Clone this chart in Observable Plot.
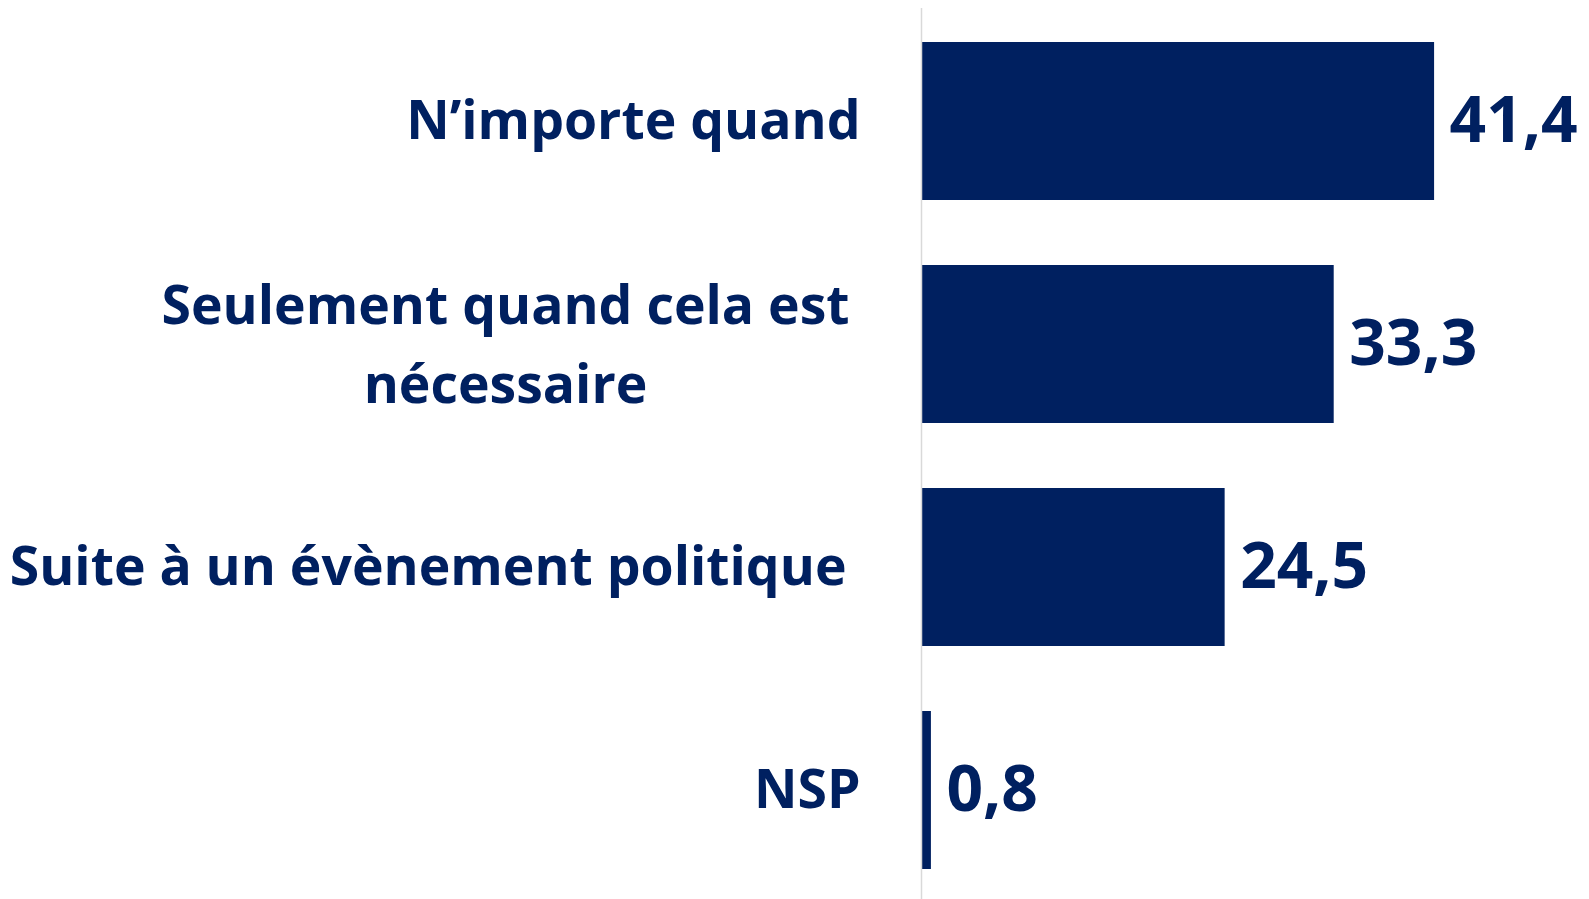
<!DOCTYPE html>
<html><head><meta charset="utf-8">
<script src="https://cdn.jsdelivr.net/npm/d3@7"></script>
<script src="https://cdn.jsdelivr.net/npm/@observablehq/plot@0.6"></script>
<style>body{margin:0;background:#fff;overflow:hidden}</style>
</head><body><div id="chart"></div>
<script>
const categories = ["N’importe quand", "Seulement quand cela est\nnécessaire", "Suite à un évènement politique", "NSP"];
const values = [41.4, 33.3, 24.5, 0.8];
const valueLabels = ["41,4", "33,3", "24,5", "0,8"];

const data = categories.map((c, i) => ({category: c, value: values[i], label: valueLabels[i], i}));
const navy = "#002060";
const font = "'Open Sans', Lato, sans-serif";
const labelStyle = {fill: navy, fontSize: 53.5, fontWeight: "bold"};

const plot = Plot.plot({
  width: 1589, height: 899,
  marginLeft: 921, marginRight: 0, marginTop: 8, marginBottom: 0,
  x: {domain: [0, 53.9], axis: null},
  y: {domain: categories, axis: null, paddingInner: 0.29, paddingOuter: 0.1356, align: 0.53},
  style: {fontFamily: font, background: "white", overflow: "visible"},
  marks: [
    Plot.barX(data, {x: "value", y: "category", fill: navy, insetLeft: 1}),
    Plot.ruleX([0], {stroke: "#d9d9d9", strokeWidth: 1.5}),
    Plot.text(data, {x: "value", y: "category", text: "label", textAnchor: "start", dx: 15,
      fill: navy, fontSize: 64, fontWeight: "bold"}),
    Plot.text(data.filter(d => d.i === 0 || d.i === 3), {x: 0, y: "category", text: "category",
      textAnchor: "end", dx: -61, ...labelStyle}),
    Plot.text(data.filter(d => d.i === 2), {x: 0, y: "category", text: "category",
      textAnchor: "end", dx: -75, ...labelStyle}),
    Plot.text(data.filter(d => d.i === 1), {x: 0, y: "category", text: "category",
      textAnchor: "middle", dx: -416, dy: -6, lineHeight: 1.46, ...labelStyle})
  ]
});
document.getElementById("chart").append(plot);
</script>
</body></html>
